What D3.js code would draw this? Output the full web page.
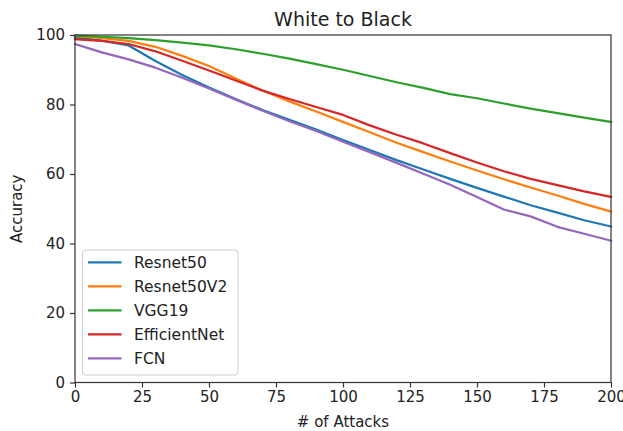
<!DOCTYPE html>
<html><head><meta charset="utf-8">
<script src="https://cdn.jsdelivr.net/npm/d3@7"></script>
<style>body{margin:0;background:#fff}svg{display:block}</style>
</head><body>
<svg id="c" width="623" height="431"></svg>
<script>
const attacks = [0,10,20,30,40,50,60,70,80,90,100,110,120,130,140,150,160,170,180,190,200];
const resnet50 =    [99.3,98.4,97.0,92.5,88.5,84.9,81.6,78.4,75.6,72.8,69.8,66.9,64.0,61.3,58.6,56.0,53.5,51.0,48.9,46.7,44.9];
const resnet50v2 =  [99.7,99.1,98.3,96.6,94.0,91.1,87.5,84.0,80.9,78.0,75.0,72.0,69.0,66.3,63.6,61.0,58.5,56.1,53.8,51.4,49.2];
const vgg19 =       [99.8,99.5,99.1,98.5,97.8,97.0,95.9,94.6,93.2,91.6,90.0,88.2,86.4,84.8,83.0,81.8,80.3,78.8,77.5,76.2,75.0];
const efficientnet =[98.8,98.3,97.4,95.3,92.6,89.8,86.9,84.0,81.6,79.3,77.0,74.0,71.3,68.8,66.0,63.3,60.8,58.6,56.8,55.0,53.4];
const fcn =         [97.4,95.0,93.0,90.6,87.7,84.6,81.4,78.2,75.2,72.4,69.3,66.3,63.2,60.1,56.9,53.4,49.8,47.8,44.8,42.8,40.8];
const seriesNames = ["Resnet50","Resnet50V2","VGG19","EfficientNet","FCN"];
const seriesValues = [resnet50,resnet50v2,vgg19,efficientnet,fcn];
const colors = ["#1f77b4","#ff7f0e","#2ca02c","#d62728","#9467bd"];
const xTicks = [0,25,50,75,100,125,150,175,200];
const yTicks = [0,20,40,60,80,100];

const svg = d3.select("#c");
const L=75,R=611,T=35,B=382.5;
const x = d3.scaleLinear().domain([0,200]).range([L,R]);
const y = d3.scaleLinear().domain([0,100]).range([B,T]);
const font = "DejaVu Sans, sans-serif";
const fs = 15;

const line = d3.line().x((d,i)=>x(attacks[i])).y(d=>y(d));
seriesValues.forEach((s,k)=>{
  svg.append("path").attr("d",line(s)).attr("fill","none")
    .attr("stroke",colors[k]).attr("stroke-width",2.2).attr("stroke-linejoin","round").attr("stroke-linecap","square");
});

const xa = svg.append("g").attr("transform",`translate(0,${B})`)
  .call(d3.axisBottom(x).tickValues(xTicks).tickSize(5).tickPadding(4).tickFormat(d3.format("d")));
const ya = svg.append("g").attr("transform",`translate(${L},0)`)
  .call(d3.axisLeft(y).tickValues(yTicks).tickSize(5).tickPadding(5).tickFormat(d3.format("d")));
[xa,ya].forEach(g=>{
  g.select(".domain").remove();
  g.selectAll("line").attr("stroke","#333").attr("stroke-width",1.2);
  g.selectAll("text").attr("font-family",font).attr("font-size",fs).attr("fill","#222");
});
svg.append("rect").attr("x",L).attr("y",T).attr("width",R-L).attr("height",B-T)
  .attr("fill","none").attr("stroke","#333").attr("stroke-width",1.2);

svg.append("text").attr("x",(L+R)/2).attr("y",26).attr("text-anchor","middle")
  .attr("font-family",font).attr("font-size",19).attr("fill","#222").text("White to Black");
svg.append("text").attr("x",(L+R)/2).attr("y",427).attr("text-anchor","middle")
  .attr("font-family",font).attr("font-size",fs).attr("fill","#222").text("# of Attacks");
svg.append("text").attr("transform",`translate(22,${(T+B)/2}) rotate(-90)`).attr("text-anchor","middle")
  .attr("font-family",font).attr("font-size",fs).attr("fill","#222").text("Accuracy");

const lg = svg.append("g");
lg.append("rect").attr("x",82.5).attr("y",250).attr("width",155.5).attr("height",125).attr("rx",3)
  .attr("fill","#fff").attr("fill-opacity",0.8).attr("stroke","#ccc").attr("stroke-width",1);
seriesNames.forEach((n,k)=>{
  const yy = 262.3 + k*24;
  lg.append("line").attr("x1",88).attr("x2",121.5).attr("y1",yy).attr("y2",yy)
    .attr("stroke",colors[k]).attr("stroke-width",2.2);
  lg.append("text").attr("x",134).attr("y",yy+5.4).attr("font-family",font).attr("font-size",15.5)
    .attr("fill","#222").text(n);
});
</script>
</body></html>
